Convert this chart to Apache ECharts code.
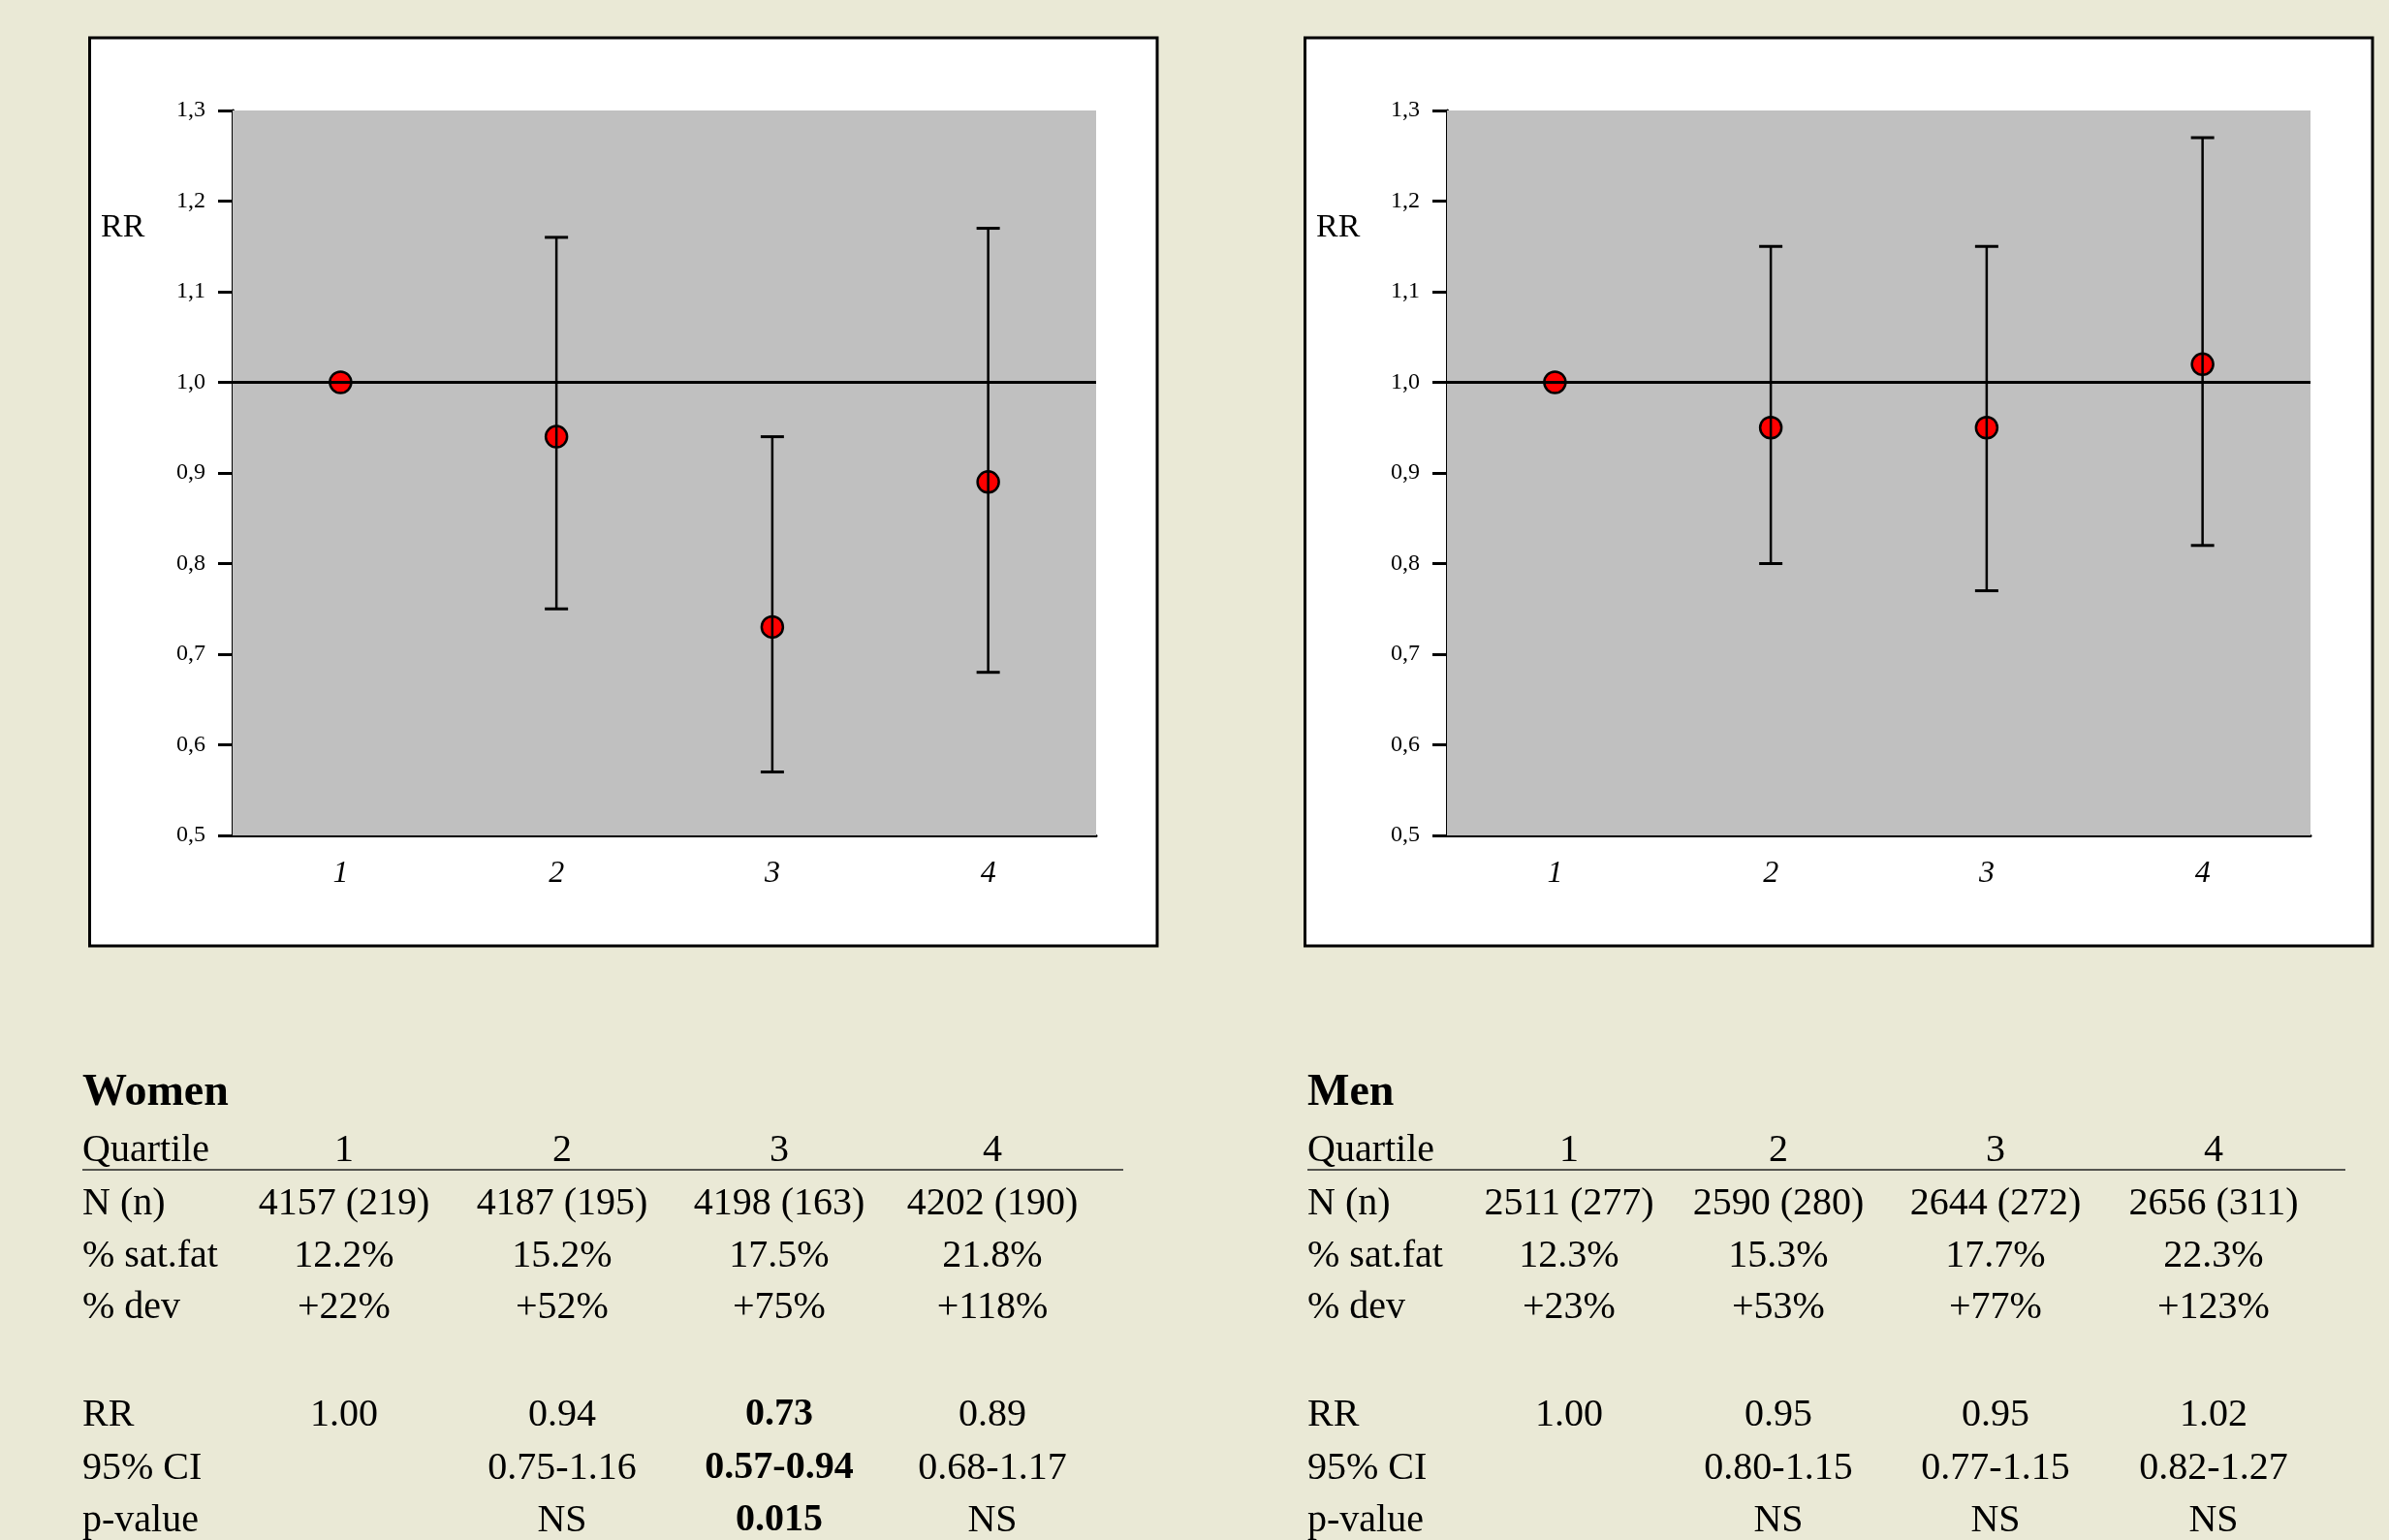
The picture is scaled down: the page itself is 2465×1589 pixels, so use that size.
<!DOCTYPE html>
<html>
<head>
<meta charset="utf-8">
<title>RR by quartile of saturated fat</title>
<script src="https://cdn.jsdelivr.net/npm/echarts@6/dist/echarts.min.js"></script>
<style>
	html, body { margin: 0; padding: 0; background: #EAE9D6; }
	#main { width: 2465px; height: 1589px; }
</style>
</head>
<body>
<div id="main"></div>
<script>
/* ======================== data ======================== */
var quartiles = ['1', '2', '3', '4'];

var womenRR   = [1.00, 0.94, 0.73, 0.89];
var womenLow  = [null, 0.75, 0.57, 0.68];
var womenHigh = [null, 1.16, 0.94, 1.17];
var womenN    = ['4157 (219)', '4187 (195)', '4198 (163)', '4202 (190)'];
var womenFat  = ['12.2%', '15.2%', '17.5%', '21.8%'];
var womenDev  = ['+22%', '+52%', '+75%', '+118%'];
var womenP    = [null, 'NS', '0.015', 'NS'];

var menRR   = [1.00, 0.95, 0.95, 1.02];
var menLow  = [null, 0.80, 0.77, 0.82];
var menHigh = [null, 1.15, 1.15, 1.27];
var menN    = ['2511 (277)', '2590 (280)', '2644 (272)', '2656 (311)'];
var menFat  = ['12.3%', '15.3%', '17.7%', '22.3%'];
var menDev  = ['+23%', '+53%', '+77%', '+123%'];
var menP    = [null, 'NS', 'NS', 'NS'];

/* ======================== layout ======================== */
var FONT = "'Liberation Serif', 'Times New Roman', serif";

var Chart = function() {
	var myChart = echarts.init(document.getElementById('main'));

	var fmt2 = function(v) { return v == null ? '' : v.toFixed(2); };
	var ciText = function(lo, hi) {
		return lo.map(function(l, i) { return l == null ? '' : fmt2(l) + '-' + fmt2(hi[i]); });
	};
	var isSig = function(p) { return p != null && !isNaN(parseFloat(p)); };

	var xAxisOf = function(idx) {
		return {
			type: 'category', gridIndex: idx, data: quartiles, boundaryGap: true,
			axisLine: { lineStyle: { color: '#000', width: 3 } },
			axisTick: { alignWithLabel: true, length: 17, lineStyle: { color: '#000', width: 3 } },
			axisLabel: { margin: 24, color: '#000', fontFamily: FONT, fontSize: 32, fontStyle: 'italic' },
			splitLine: { show: false }
		};
	};
	var yAxisOf = function(idx) {
		return {
			type: 'value', gridIndex: idx, min: 0.5, max: 1.3, interval: 0.1,
			axisLine: { show: true, lineStyle: { color: '#000', width: 3 } },
			axisTick: { show: true, length: 15, lineStyle: { color: '#000', width: 3 } },
			axisLabel: {
				margin: 28, color: '#000', fontFamily: FONT, fontSize: 24,
				formatter: function(v) { return v.toFixed(1).replace('.', ','); }
			},
			splitLine: { show: false }
		};
	};

	var pointSeries = function(idx, rr) {
		return {
			type: 'scatter', xAxisIndex: idx, yAxisIndex: idx, z: 2,
			data: rr.map(function(v, i) { return [i, v]; }),
			symbol: 'circle', symbolSize: 22,
			itemStyle: { color: '#FF0000', borderColor: '#000', borderWidth: 2.5, opacity: 1 },
			markLine: {
				silent: true, symbol: 'none', z: 5,
				label: { show: false },
				lineStyle: { color: '#000', width: 3, type: 'solid' },
				data: [{ yAxis: 1 }]
			}
		};
	};

	var barSeries = function(idx, lo, hi) {
		var d = [];
		for (var i = 0; i < lo.length; i++) {
			if (lo[i] != null) d.push([i, lo[i], hi[i]]);
		}
		return {
			type: 'custom', xAxisIndex: idx, yAxisIndex: idx, z: 3,
			data: d,
			renderItem: function(params, api) {
				var top = api.coord([api.value(0), api.value(2)]);
				var bot = api.coord([api.value(0), api.value(1)]);
				var cap = 12;
				return {
					type: 'group',
					children: [
						{ type: 'line', shape: { x1: top[0], y1: top[1], x2: bot[0], y2: bot[1] },
						  style: { stroke: '#000', lineWidth: 2.5 } },
						{ type: 'line', shape: { x1: top[0] - cap, y1: top[1], x2: top[0] + cap, y2: top[1] },
						  style: { stroke: '#000', lineWidth: 3 } },
						{ type: 'line', shape: { x1: bot[0] - cap, y1: bot[1], x2: bot[0] + cap, y2: bot[1] },
						  style: { stroke: '#000', lineWidth: 3 } }
					]
				};
			}
		};
	};

	// table under each panel
	var rowY = { title: 1128, head: 1187, rule: 1207, n: 1242, fat: 1296, dev: 1349, rr: 1460, ci: 1515, p: 1569 };
	var txt = function(x, y, s, opt) {
		opt = opt || {};
		return {
			type: 'text', x: x, y: y, z: 10,
			style: {
				text: s, fill: '#000', fontFamily: FONT,
				fontSize: opt.size || 40, fontWeight: opt.bold ? 'bold' : 'normal',
				align: opt.align || 'center', verticalAlign: 'middle'
			}
		};
	};
	var buildTable = function(x0, cols, xEnd, title, rr, lo, hi, nn, fat, dev, pv) {
		var els = [];
		var rrTxt = rr.map(fmt2);
		var ci = ciText(lo, hi);
		els.push(txt(x0, rowY.title, title, { align: 'left', bold: true, size: 46 }));
		var rows = [
			['Quartile', quartiles, rowY.head, false],
			['N (n)', nn, rowY.n, false],
			['% sat.fat', fat, rowY.fat, false],
			['% dev', dev, rowY.dev, false],
			['RR', rrTxt, rowY.rr, true],
			['95% CI', ci, rowY.ci, true],
			['p-value', pv, rowY.p, true]
		];
		rows.forEach(function(r) {
			els.push(txt(x0, r[2], r[0], { align: 'left' }));
			r[1].forEach(function(v, i) {
				if (v == null || v === '') return;
				els.push(txt(cols[i], r[2], v, { bold: r[3] && isSig(pv[i]) }));
			});
		});
		els.push({
			type: 'line', z: 10,
			shape: { x1: x0, y1: rowY.rule, x2: xEnd, y2: rowY.rule },
			style: { stroke: '#222', lineWidth: 1.5 }
		});
		return els;
	};

	var frame = function(x) {
		return {
			type: 'rect', z: -10,
			shape: { x: x, y: 39, width: 1101.5, height: 937 },
			style: { fill: '#FFFFFF', stroke: '#000', lineWidth: 3 }
		};
	};

	var graphics = [frame(92.5), frame(1346.5),
		txt(104, 235, 'RR', { align: 'left', size: 34 }),
		txt(1358, 235, 'RR', { align: 'left', size: 34 })]
		.concat(buildTable(85, [355, 580, 804, 1024], 1159, 'Women',
			womenRR, womenLow, womenHigh, womenN, womenFat, womenDev, womenP))
		.concat(buildTable(1349, [1619, 1835, 2059, 2284], 2420, 'Men',
			menRR, menLow, menHigh, menN, menFat, menDev, menP));

	var option = {
		backgroundColor: '#EAE9D6',
		animation: false,
		grid: [
			{ left: 240, top: 114, width: 891, height: 748, show: true, z: 1, backgroundColor: '#C0C0C0', borderWidth: 0 },
			{ left: 1493, top: 114, width: 891, height: 748, show: true, z: 1, backgroundColor: '#C0C0C0', borderWidth: 0 }
		],
		xAxis: [xAxisOf(0), xAxisOf(1)],
		yAxis: [yAxisOf(0), yAxisOf(1)],
		graphic: { elements: graphics },
		series: [
			pointSeries(0, womenRR), barSeries(0, womenLow, womenHigh),
			pointSeries(1, menRR), barSeries(1, menLow, menHigh)
		]
	};
	return {
		init: function() {
			myChart.setOption(option);
		}
	};
}();

Chart.init();
</script>
</body>
</html>
